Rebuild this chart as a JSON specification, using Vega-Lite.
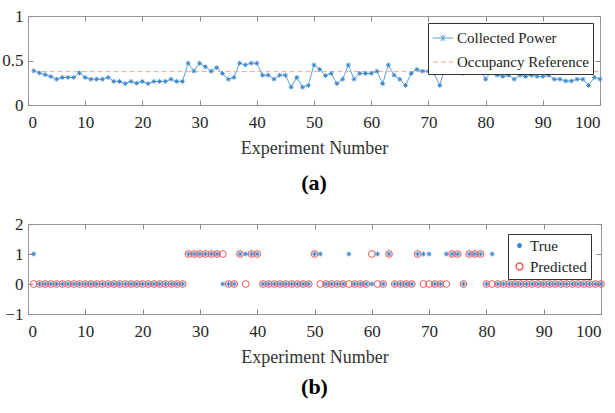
{
  "$schema": "https://vega.github.io/schema/vega-lite/v6.json",
  "background": "white",
  "padding": {"left": 1, "top": 6, "right": 6, "bottom": 5},
  "spacing": 19,
  "config": {
    "view": {"stroke": "#9a9a9a", "strokeWidth": 1},
    "axis": {
      "grid": false, "domain": false, "tickColor": "#8a8a8a", "tickSize": -5,
      "labelFont": "Liberation Sans Narrow", "labelFontSize": 17, "labelColor": "#262626", "labelPadding": 14,
      "titleFont": "Liberation Serif", "titleFontSize": 18, "titleFontWeight": "normal", "titleColor": "#333333", "titlePadding": 9
    },
    "axisY": {"labelPadding": 10},
    "legend": {
      "orient": "top-right", "offset": 8, "fillColor": "white", "strokeColor": "#333333", "padding": 4,
      "labelFont": "Liberation Serif", "labelFontSize": 15, "labelColor": "#222222", "title": null, "rowPadding": 5, "labelOffset": 3
    },
    "title": {"font": "Liberation Serif", "fontSize": 22, "fontWeight": "bold", "color": "black"}
  },
  "datasets": {
    "power": [
      {"n":1,"Collected Power":0.384},{"n":2,"Collected Power":0.36},{"n":3,"Collected Power":0.34},{"n":4,"Collected Power":0.32},{"n":5,"Collected Power":0.29},
      {"n":6,"Collected Power":0.31},{"n":7,"Collected Power":0.31},{"n":8,"Collected Power":0.31},{"n":9,"Collected Power":0.36},{"n":10,"Collected Power":0.31},
      {"n":11,"Collected Power":0.29},{"n":12,"Collected Power":0.29},{"n":13,"Collected Power":0.29},{"n":14,"Collected Power":0.31},{"n":15,"Collected Power":0.265},
      {"n":16,"Collected Power":0.265},{"n":17,"Collected Power":0.24},{"n":18,"Collected Power":0.265},{"n":19,"Collected Power":0.245},{"n":20,"Collected Power":0.265},
      {"n":21,"Collected Power":0.24},{"n":22,"Collected Power":0.265},{"n":23,"Collected Power":0.265},{"n":24,"Collected Power":0.265},{"n":25,"Collected Power":0.29},
      {"n":26,"Collected Power":0.265},{"n":27,"Collected Power":0.265},{"n":28,"Collected Power":0.47},{"n":29,"Collected Power":0.38},{"n":30,"Collected Power":0.47},
      {"n":31,"Collected Power":0.43},{"n":32,"Collected Power":0.38},{"n":33,"Collected Power":0.42},{"n":34,"Collected Power":0.355},{"n":35,"Collected Power":0.29},
      {"n":36,"Collected Power":0.31},{"n":37,"Collected Power":0.47},{"n":38,"Collected Power":0.45},{"n":39,"Collected Power":0.47},{"n":40,"Collected Power":0.47},
      {"n":41,"Collected Power":0.335},{"n":42,"Collected Power":0.335},{"n":43,"Collected Power":0.29},{"n":44,"Collected Power":0.335},{"n":45,"Collected Power":0.335},
      {"n":46,"Collected Power":0.2},{"n":47,"Collected Power":0.31},{"n":48,"Collected Power":0.2},{"n":49,"Collected Power":0.22},{"n":50,"Collected Power":0.45},
      {"n":51,"Collected Power":0.4},{"n":52,"Collected Power":0.33},{"n":53,"Collected Power":0.355},{"n":54,"Collected Power":0.24},{"n":55,"Collected Power":0.29},
      {"n":56,"Collected Power":0.45},{"n":57,"Collected Power":0.29},{"n":58,"Collected Power":0.355},{"n":59,"Collected Power":0.355},{"n":60,"Collected Power":0.355},
      {"n":61,"Collected Power":0.38},{"n":62,"Collected Power":0.24},{"n":63,"Collected Power":0.45},{"n":64,"Collected Power":0.335},{"n":65,"Collected Power":0.29},
      {"n":66,"Collected Power":0.22},{"n":67,"Collected Power":0.355},{"n":68,"Collected Power":0.4},{"n":69,"Collected Power":0.38},{"n":70,"Collected Power":0.38},
      {"n":71,"Collected Power":0.355},{"n":72,"Collected Power":0.22},{"n":73,"Collected Power":0.45},{"n":74,"Collected Power":0.42},{"n":75,"Collected Power":0.38},
      {"n":76,"Collected Power":0.355},{"n":77,"Collected Power":0.42},{"n":78,"Collected Power":0.45},{"n":79,"Collected Power":0.42},{"n":80,"Collected Power":0.29},
      {"n":81,"Collected Power":0.38},{"n":82,"Collected Power":0.335},{"n":83,"Collected Power":0.32},{"n":84,"Collected Power":0.335},{"n":85,"Collected Power":0.29},
      {"n":86,"Collected Power":0.335},{"n":87,"Collected Power":0.32},{"n":88,"Collected Power":0.335},{"n":89,"Collected Power":0.32},{"n":90,"Collected Power":0.32},
      {"n":91,"Collected Power":0.335},{"n":92,"Collected Power":0.29},{"n":93,"Collected Power":0.29},{"n":94,"Collected Power":0.27},{"n":95,"Collected Power":0.27},
      {"n":96,"Collected Power":0.29},{"n":97,"Collected Power":0.29},{"n":98,"Collected Power":0.22},{"n":99,"Collected Power":0.31},{"n":100,"Collected Power":0.29}
    ],
    "ref": [
      {"n":1,"Occupancy Reference":0.375},{"n":100,"Occupancy Reference":0.375}
    ],
    "occ": [
      {"n":1,"True":1,"Predicted":0},{"n":2,"True":0,"Predicted":0},{"n":3,"True":0,"Predicted":0},{"n":4,"True":0,"Predicted":0},{"n":5,"True":0,"Predicted":0},
      {"n":6,"True":0,"Predicted":0},{"n":7,"True":0,"Predicted":0},{"n":8,"True":0,"Predicted":0},{"n":9,"True":0,"Predicted":0},{"n":10,"True":0,"Predicted":0},
      {"n":11,"True":0,"Predicted":0},{"n":12,"True":0,"Predicted":0},{"n":13,"True":0,"Predicted":0},{"n":14,"True":0,"Predicted":0},{"n":15,"True":0,"Predicted":0},
      {"n":16,"True":0,"Predicted":0},{"n":17,"True":0,"Predicted":0},{"n":18,"True":0,"Predicted":0},{"n":19,"True":0,"Predicted":0},{"n":20,"True":0,"Predicted":0},
      {"n":21,"True":0,"Predicted":0},{"n":22,"True":0,"Predicted":0},{"n":23,"True":0,"Predicted":0},{"n":24,"True":0,"Predicted":0},{"n":25,"True":0,"Predicted":0},
      {"n":26,"True":0,"Predicted":0},{"n":27,"True":0,"Predicted":0},{"n":28,"True":1,"Predicted":1},{"n":29,"True":1,"Predicted":1},{"n":30,"True":1,"Predicted":1},
      {"n":31,"True":1,"Predicted":1},{"n":32,"True":1,"Predicted":1},{"n":33,"True":1,"Predicted":1},{"n":34,"True":0,"Predicted":1},{"n":35,"True":0,"Predicted":0},
      {"n":36,"True":0,"Predicted":0},{"n":37,"True":1,"Predicted":1},{"n":38,"True":1,"Predicted":0},{"n":39,"True":1,"Predicted":1},{"n":40,"True":1,"Predicted":1},
      {"n":41,"True":0,"Predicted":0},{"n":42,"True":0,"Predicted":0},{"n":43,"True":0,"Predicted":0},{"n":44,"True":0,"Predicted":0},{"n":45,"True":0,"Predicted":0},
      {"n":46,"True":0,"Predicted":0},{"n":47,"True":0,"Predicted":0},{"n":48,"True":0,"Predicted":0},{"n":49,"True":0,"Predicted":0},{"n":50,"True":1,"Predicted":1},
      {"n":51,"True":1,"Predicted":0},{"n":52,"True":0,"Predicted":0},{"n":53,"True":0,"Predicted":0},{"n":54,"True":0,"Predicted":0},{"n":55,"True":0,"Predicted":0},
      {"n":56,"True":1,"Predicted":0},{"n":57,"True":0,"Predicted":0},{"n":58,"True":0,"Predicted":0},{"n":59,"True":0,"Predicted":0},{"n":60,"True":0,"Predicted":1},
      {"n":61,"True":1,"Predicted":0},{"n":62,"True":0,"Predicted":0},{"n":63,"True":1,"Predicted":1},{"n":64,"True":0,"Predicted":0},{"n":65,"True":0,"Predicted":0},
      {"n":66,"True":0,"Predicted":0},{"n":67,"True":0,"Predicted":0},{"n":68,"True":1,"Predicted":1},{"n":69,"True":1,"Predicted":0},{"n":70,"True":1,"Predicted":0},
      {"n":71,"True":0,"Predicted":0},{"n":72,"True":0,"Predicted":0},{"n":73,"True":1,"Predicted":0},{"n":74,"True":1,"Predicted":1},{"n":75,"True":1,"Predicted":1},
      {"n":76,"True":0,"Predicted":0},{"n":77,"True":1,"Predicted":1},{"n":78,"True":1,"Predicted":1},{"n":79,"True":1,"Predicted":1},{"n":80,"True":0,"Predicted":0},
      {"n":81,"True":1,"Predicted":0},{"n":82,"True":0,"Predicted":0},{"n":83,"True":0,"Predicted":0},{"n":84,"True":0,"Predicted":0},{"n":85,"True":0,"Predicted":0},
      {"n":86,"True":0,"Predicted":0},{"n":87,"True":0,"Predicted":0},{"n":88,"True":0,"Predicted":0},{"n":89,"True":0,"Predicted":0},{"n":90,"True":0,"Predicted":0},
      {"n":91,"True":0,"Predicted":0},{"n":92,"True":0,"Predicted":0},{"n":93,"True":0,"Predicted":0},{"n":94,"True":0,"Predicted":0},{"n":95,"True":0,"Predicted":0},
      {"n":96,"True":0,"Predicted":0},{"n":97,"True":0,"Predicted":0},{"n":98,"True":0,"Predicted":0},{"n":99,"True":0,"Predicted":0},{"n":100,"True":0,"Predicted":0}
    ]
  },
  "vconcat": [
    {
      "width": 572,
      "height": 89,
      "title": {"text": "(a)", "orient": "bottom", "anchor": "middle", "offset": 16},
      "layer": [
        {
          "data": {"name": "power"},
          "transform": [{"fold": ["Collected Power"], "as": ["series", "value"]}],
          "mark": {"type": "line", "strokeWidth": 1},
          "encoding": {
            "x": {"field": "n", "type": "quantitative", "scale": {"domain": [0, 100], "nice": false},
                  "axis": {"values": [0,10,20,30,40,50,60,70,80,90,100], "title": "Experiment Number"}},
            "y": {"field": "value", "type": "quantitative", "scale": {"domain": [0, 1], "nice": false},
                  "axis": {"values": [0, 0.5, 1], "format": "~g", "title": null}},
            "color": {"field": "series", "type": "nominal",
                      "scale": {"domain": ["Collected Power", "Occupancy Reference"], "range": ["#4a94d8", "#f2a58a"]},
                      "legend": {"symbolSize": 420, "symbolStrokeWidth": 1, "offset": 7,
                                 "encode": {"symbols": {"update": {"shape": {"signal": "datum.value === 'Collected Power' ? 'M-1,0L1,0M-0.25,-0.25L0.25,0.25M-0.25,0.25L0.25,-0.25M0,-0.3L0,0.3' : 'stroke'"}}}}}},
            "strokeDash": {"field": "series", "type": "nominal",
                           "scale": {"domain": ["Collected Power", "Occupancy Reference"], "range": [[1, 0], [5, 3]]}}
          }
        },
        {
          "data": {"name": "ref"},
          "transform": [{"fold": ["Occupancy Reference"], "as": ["series", "value"]}],
          "mark": {"type": "line", "strokeWidth": 1},
          "encoding": {
            "x": {"field": "n", "type": "quantitative", "axis": null},
            "y": {"field": "value", "type": "quantitative", "axis": null},
            "color": {"field": "series", "type": "nominal"},
            "strokeDash": {"field": "series", "type": "nominal"}
          }
        },
        {
          "data": {"name": "power"},
          "mark": {"type": "point", "shape": "M-1,0L1,0M0,-1L0,1M-0.7,-0.7L0.7,0.7M-0.7,0.7L0.7,-0.7", "filled": false, "color": "#3a86cc", "size": 22, "strokeWidth": 1, "opacity": 1},
          "encoding": {
            "x": {"field": "n", "type": "quantitative", "axis": {"orient": "top", "labels": false, "title": null, "values": [0,10,20,30,40,50,60,70,80,90,100]}},
            "y": {"field": "Collected Power", "type": "quantitative", "axis": {"orient": "right", "labels": false, "title": null, "values": [0, 0.5, 1]}}
          }
        }
      ],
      "resolve": {"axis": {"x": "independent", "y": "independent"}}
    },
    {
      "width": 573,
      "height": 90,
      "title": {"text": "(b)", "orient": "bottom", "anchor": "middle", "offset": 11},
      "layer": [
        {
          "data": {"name": "occ"},
          "transform": [{"fold": ["Predicted", "True"], "as": ["series", "value"]}],
          "mark": {"type": "point", "filled": false, "strokeWidth": 1, "opacity": 1},
          "encoding": {
            "x": {"field": "n", "type": "quantitative", "scale": {"domain": [0, 100], "nice": false},
                  "axis": {"values": [0,10,20,30,40,50,60,70,80,90,100], "title": "Experiment Number"}},
            "y": {"field": "value", "type": "quantitative", "scale": {"domain": [-1, 2], "nice": false},
                  "axis": {"values": [-1, 0, 1, 2], "format": "~g", "title": null}},
            "color": {"field": "series", "type": "nominal",
                      "scale": {"domain": ["True", "Predicted"], "range": ["#3a86cc", "#ee5a5a"]},
                      "legend": {"offset": 10}},
            "shape": {"field": "series", "type": "nominal",
                      "scale": {"domain": ["True", "Predicted"], "range": ["M-1,0L1,0M0,-1L0,1M-0.7,-0.7L0.7,0.7M-0.7,0.7L0.7,-0.7", "circle"]}},
            "size": {"field": "series", "type": "nominal",
                     "scale": {"domain": ["True", "Predicted"], "range": [24, 46]}}
          }
        },
        {
          "data": {"name": "occ"},
          "mark": {"type": "point", "opacity": 0},
          "encoding": {
            "x": {"field": "n", "type": "quantitative", "axis": {"orient": "top", "labels": false, "title": null, "values": [0,10,20,30,40,50,60,70,80,90,100]}},
            "y": {"field": "True", "type": "quantitative", "axis": {"orient": "right", "labels": false, "title": null, "values": [-1, 0, 1, 2]}}
          }
        }
      ],
      "resolve": {"axis": {"x": "independent", "y": "independent"}}
    }
  ],
  "resolve": {"scale": {"color": "independent", "strokeDash": "independent", "shape": "independent", "size": "independent"}, "legend": {"color": "independent", "strokeDash": "independent", "shape": "independent", "size": "independent"}}
}
